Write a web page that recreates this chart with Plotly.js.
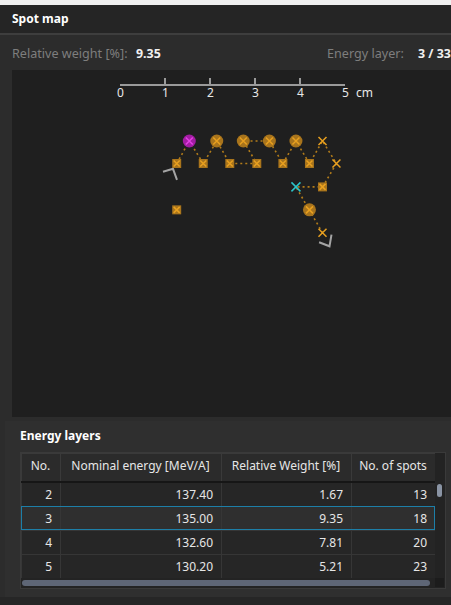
<!DOCTYPE html>
<html>
<head>
<meta charset="utf-8">
<script src="https://cdn.plot.ly/plotly-3.0.1.min.js"></script>
<style>
  html,body{margin:0;padding:0;}
  body{width:451px;height:605px;overflow:hidden;position:relative;background:#262626;font-family:"Noto Sans",sans-serif;}
  .abs{position:absolute;}
</style>
</head>
<body>
<div class="abs" style="left:0;top:0;width:451px;height:5px;background:#f0f0f0"></div>
<div class="abs" style="left:0;top:5px;width:451px;height:28px;background:#252525"></div>
<div class="abs" style="left:12px;top:10px;font-size:12px;font-weight:bold;color:#ffffff">Spot map</div>
<div class="abs" style="left:0;top:33px;width:451px;height:2px;background:#3e3e3e"></div>
<div class="abs" style="left:0;top:35px;width:451px;height:562px;background:#2c2c2c"></div>
<div class="abs" id="rwLabel" style="left:12px;top:45px;font-size:12.6px;color:#7e7e7e"></div>
<div class="abs" id="rwValue" style="left:136px;top:45px;font-size:12.4px;font-weight:bold;color:#f0f0f0"></div>
<div class="abs" id="elLabel" style="left:327px;top:45px;font-size:12.6px;color:#7e7e7e"></div>
<div class="abs" id="elValue" style="left:418px;top:45px;font-size:12.4px;font-weight:bold;color:#f0f0f0;white-space:nowrap"></div>
<div class="abs" id="map" style="left:12px;top:70px;width:439px;height:347px;background:#1f1f1f"></div>
<div class="abs" style="left:5px;top:421px;width:446px;height:176px;background:#2f2f2f"></div>
<div class="abs" id="panelTitle" style="left:20px;top:427px;font-size:12px;font-weight:bold;color:#ffffff"></div>
<div class="abs" style="left:20px;top:452px;width:424px;height:135px;background:#232323;border:1px solid #3a3a3a;box-sizing:content-box"></div>
<div class="abs" id="tbl" style="left:21px;top:453px;width:414px;height:125px"></div>
<div class="abs" style="left:21px;top:481px;width:414px;height:2px;background:#161616"></div>
<div class="abs" style="left:21px;top:506px;width:414px;height:24px;border:1px solid #1d7fa8;box-sizing:border-box;pointer-events:none"></div>
<div class="abs" style="left:437px;top:484px;width:5px;height:13px;border-radius:3px;background:#8a94a4"></div>
<div class="abs" style="left:21px;top:578px;width:423px;height:9px;background:#232323"></div>
<div class="abs" style="left:22px;top:580px;width:408px;height:6px;border-radius:3px;background:#5e6676"></div>
<div class="abs" style="left:435px;top:578px;width:9px;height:9px;background:#1c1c1c"></div>
<script>
// ---------- header info ----------
const relWeightLabel = "Relative weight [%]:";
const relWeightValue = "9.35";
const energyLayerLabel = "Energy layer:";
const energyLayerValue = "3 / 33";
const panelTitle = "Energy layers";

// ---------- spot map data (cm), in delivery order ----------
const spotX = [1.26, 1.54, 1.85, 2.15, 2.44, 3.04, 2.74, 3.32, 3.62, 3.91, 4.21, 4.50, 4.81, 4.50, 3.91, 4.21, 4.50, 1.26];
const spotY = [-0.50, 0.00, -0.50, 0.00, -0.50, -0.50, 0.00, 0.00, -0.50, 0.00, -0.50, 0.00, -0.50, -1.02, -1.02, -1.53, -2.04, -1.53];
const spotClass = ["mid","high","mid","high","mid","mid","high","high","mid","high","mid","low","low","mid","low","high","low","mid"];
const spotInPath = [1,1,1,1,1,1,1,1,1,1,1,1,1,1,1,1,1,0];
const currentSpot = 1;   // highlighted (magenta)
const selectedSpot = 14; // highlighted (cyan)

// scale bar
const scaleTicks = [0, 1, 2, 3, 4, 5];
const scaleTickLabels = ["0", "1", "2", "3", "4", "5"];
const scaleUnit = "cm";

// ---------- energy layer table (visible rows) ----------
const layerNo = ["2", "3", "4", "5"];
const layerEnergy = ["137.40", "135.00", "132.60", "130.20"];
const layerWeight = ["1.67", "9.35", "7.81", "5.21"];
const layerSpots = ["13", "18", "20", "23"];
const tableHeaders = ["No.", "Nominal energy [MeV/A]", "Relative Weight [%]", "No. of spots"];
const selectedRow = 1;

document.getElementById("rwLabel").textContent = relWeightLabel;
document.getElementById("rwValue").textContent = relWeightValue;
document.getElementById("elLabel").textContent = energyLayerLabel;
document.getElementById("elValue").textContent = energyLayerValue;
document.getElementById("panelTitle").textContent = panelTitle;

// ---------- spot map ----------
const PX = 45; // pixels per cm
const W = 439, H = 347;
const x0px = 108, y0px = 71; // pixel position of (0,0) in plot
const xRange = [-x0px / PX, (W - x0px) / PX];
const yRange = [(y0px - H) / PX, y0px / PX];

const pathX = [], pathY = [];
spotX.forEach((v, i) => { if (spotInPath[i]) { pathX.push(v); pathY.push(spotY[i]); } });

function pick(cls, excl) {
  const xs = [], ys = [];
  spotX.forEach((v, i) => {
    if (spotClass[i] === cls && excl.indexOf(i) < 0) { xs.push(v); ys.push(spotY[i]); }
  });
  return {x: xs, y: ys};
}
const special = [currentSpot, selectedSpot];
const hi = pick("high", special), mid = pick("mid", special), lo = pick("low", special);

// direction arrows (start / end of the scan path), offsets in pixels
const f = pathX.length - 1;
const startArrow = {
  x: [pathX[0] + (-13.7) / PX, pathX[0] + (-3.7) / PX, pathX[0] + 0.3 / PX],
  y: [pathY[0] - 8.3 / PX, pathY[0] - 5.3 / PX, pathY[0] - 16.3 / PX]
};
const endArrow = {
  x: [pathX[f] + 9.0 / PX, pathX[f] + 7.0 / PX, pathX[f] - 3.4 / PX],
  y: [pathY[f] - 1.8 / PX, pathY[f] - 13.5 / PX, pathY[f] - 9.5 / PX]
};

const orangeFill = "#a8741c", orangeX = "#e8a020";
function cross(pts, size, color) {
  return {x: pts.x, y: pts.y, mode: "markers", hoverinfo: "skip",
    marker: {symbol: "x-thin-open", size: size, color: color, line: {color: color, width: 1.5}}};
}
const traces = [
  {x: pathX, y: pathY, mode: "lines", line: {color: "#b27c1a", width: 1.6, dash: "2px,3px"}, hoverinfo: "skip"},
  {x: startArrow.x, y: startArrow.y, mode: "lines", line: {color: "#a4a4a4", width: 2}, hoverinfo: "skip"},
  {x: endArrow.x, y: endArrow.y, mode: "lines", line: {color: "#a4a4a4", width: 2}, hoverinfo: "skip"},
  {x: hi.x, y: hi.y, mode: "markers", marker: {symbol: "circle", size: 13, color: orangeFill, line: {width: 0}}, hoverinfo: "skip"},
  cross(hi, 7, orangeX),
  {x: mid.x, y: mid.y, mode: "markers", marker: {symbol: "square", size: 9, color: orangeFill, line: {width: 0}}, hoverinfo: "skip"},
  cross(mid, 6, orangeX),
  cross(lo, 8, orangeX),
  {x: [spotX[currentSpot]], y: [spotY[currentSpot]], mode: "markers", marker: {symbol: "circle", size: 13, color: "#a31ca3", line: {width: 0}}, hoverinfo: "skip"},
  cross({x: [spotX[currentSpot]], y: [spotY[currentSpot]]}, 7, "#e440e4"),
  cross({x: [spotX[selectedSpot]], y: [spotY[selectedSpot]]}, 9, "#2cc4c8"),
  {x: [scaleTicks[0], scaleTicks[scaleTicks.length - 1]], y: [null, null], xaxis: "x2", yaxis: "y", mode: "lines", hoverinfo: "skip"}
];

const scaleDomain = [x0px / W, (x0px + scaleTicks[scaleTicks.length - 1] * PX) / W];
const scalePos = 1 - 14 / H;
const lblFont = {family: "Noto Sans", size: 12, color: "#e8e8e8"};

const annotations = scaleTicks.map((t, i) => ({
  xref: "x2", yref: "paper", x: t, y: scalePos, text: scaleTickLabels[i],
  showarrow: false, xanchor: "center", yanchor: "middle", yshift: -8, font: lblFont
}));
annotations.push({
  xref: "x2", yref: "paper", x: scaleTicks[scaleTicks.length - 1], y: scalePos,
  text: scaleUnit, showarrow: false, xanchor: "left", yanchor: "middle",
  xshift: 9, yshift: -8, font: lblFont
});

const layout = {
  width: W, height: H,
  margin: {l: 0, r: 0, t: 0, b: 0, pad: 0},
  paper_bgcolor: "#1f1f1f", plot_bgcolor: "rgba(0,0,0,0)",
  showlegend: false,
  xaxis: {range: xRange, visible: false, fixedrange: true},
  yaxis: {range: yRange, visible: false, fixedrange: true},
  xaxis2: {
    domain: scaleDomain, range: [scaleTicks[0], scaleTicks[scaleTicks.length - 1]],
    anchor: "free", position: scalePos, side: "bottom",
    showline: true, linecolor: "#9a9a9a", linewidth: 1.5,
    ticks: "inside", ticklen: 6, tickwidth: 1.5, tickcolor: "#9a9a9a",
    tickmode: "array", tickvals: scaleTicks, showticklabels: false,
    showgrid: false, zeroline: false, fixedrange: true
  },
  annotations: annotations
};
Plotly.newPlot("map", traces, layout, {displayModeBar: false, staticPlot: true});

// ---------- table ----------
const rowFill = layerNo.map((_, i) => i === selectedRow ? "#2f2f2f" : "#262626");
const headerText = tableHeaders.map(h => h.replace(/ /g, "\u00a0"));
const tbl = [{
  type: "table",
  columnwidth: [39, 161, 130, 84],
  header: {
    values: headerText,
    align: "center", height: 29,
    fill: {color: "#2b2b2b"},
    line: {color: "#3a3a3a", width: 1},
    font: {family: "Noto Sans", size: 12, color: "#e6e6e6"}
  },
  cells: {
    values: [layerNo, layerEnergy, layerWeight, layerSpots],
    align: "right", height: 24,
    fill: {color: [rowFill, rowFill, rowFill, rowFill]},
    line: {color: "#363636", width: 1},
    font: {family: "Noto Sans", size: 12, color: "#e6e6e6"}
  },
  domain: {x: [0, 1], y: [0, 1]}
}];
Plotly.newPlot("tbl", tbl, {
  width: 414, height: 125, margin: {l: 0, r: 0, t: 0, b: 0},
  paper_bgcolor: "#232323"
}, {displayModeBar: false, staticPlot: true});
</script>
</body>
</html>
